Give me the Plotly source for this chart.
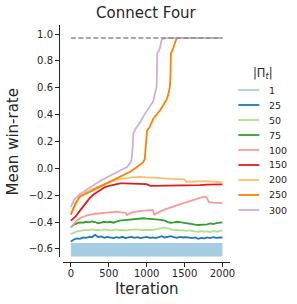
import plotly.graph_objects as go

# ---------------- data ----------------
series_labels = ["1", "25", "50", "75", "100", "150", "200", "250", "300"]
series_colors = ["#a6cee3", "#1f78b4", "#b2df8a", "#33a02c", "#fb9a99",
                 "#e31a1c", "#fdbf6f", "#ff7f00", "#cab2d6"]

grid_iters = list(range(0, 2001, 40))

# |Pi_t| = 1 : dense band (oscillating between these limits)
s1_iters = [0, 2000]
s1_high = [-0.562, -0.562]
s1_low = [-0.652, -0.652]

s25 = [-0.545, -0.53, -0.522, -0.525, -0.515, -0.518, -0.51, -0.512, -0.495, -0.512,
       -0.508, -0.518, -0.51, -0.515, -0.52, -0.512, -0.518, -0.51, -0.52, -0.515,
       -0.51, -0.518, -0.512, -0.52, -0.515, -0.51, -0.518, -0.515, -0.52, -0.512,
       -0.505, -0.515, -0.51, -0.505, -0.512, -0.518, -0.51, -0.515, -0.512, -0.518,
       -0.52, -0.515, -0.525, -0.518, -0.522, -0.515, -0.52, -0.512, -0.518, -0.515,
       -0.515]

s50 = [-0.49, -0.478, -0.47, -0.465, -0.462, -0.458, -0.462, -0.455, -0.46, -0.458,
       -0.462, -0.455, -0.458, -0.462, -0.46, -0.455, -0.46, -0.458, -0.462, -0.46,
       -0.455, -0.458, -0.455, -0.46, -0.458, -0.455, -0.458, -0.46, -0.455, -0.452,
       -0.45, -0.44, -0.448, -0.455, -0.46, -0.458, -0.462, -0.46, -0.465, -0.462,
       -0.468, -0.47, -0.472, -0.468, -0.472, -0.47, -0.475, -0.468, -0.472, -0.465,
       -0.462]

s75 = [-0.44, -0.42, -0.41, -0.402, -0.405, -0.398, -0.402, -0.395, -0.4, -0.41,
       -0.405, -0.398, -0.402, -0.398, -0.405, -0.395, -0.39, -0.388, -0.385, -0.382,
       -0.38, -0.378, -0.375, -0.372, -0.372, -0.375, -0.375, -0.378, -0.38, -0.382,
       -0.385, -0.39, -0.4, -0.405, -0.402, -0.398, -0.4, -0.405, -0.41, -0.415,
       -0.418, -0.42, -0.422, -0.42, -0.422, -0.418, -0.41, -0.415, -0.408, -0.405,
       -0.402]

s100_iters = [0, 60, 120, 200, 300, 400, 500, 600, 680, 720, 740, 800, 900, 1000,
              1080, 1100, 1150, 1200, 1300, 1400, 1500, 1600, 1700, 1750, 1790,
              1820, 1900, 2000]
s100 = [-0.44, -0.4, -0.372, -0.352, -0.34, -0.335, -0.325, -0.322, -0.33, -0.33,
        -0.348, -0.33, -0.318, -0.312, -0.31, -0.345, -0.33, -0.315, -0.295, -0.275,
        -0.255, -0.24, -0.218, -0.211, -0.215, -0.25, -0.258, -0.258]

s150_iters = [0, 60, 120, 200, 250, 300, 385, 450, 520, 600, 650, 700, 800, 900,
              1000, 1050, 1100, 1200, 1300, 1400, 1500, 1560, 1600, 1700, 1800,
              1900, 2000]
s150 = [-0.39, -0.36, -0.315, -0.26, -0.22, -0.195, -0.16, -0.14, -0.128, -0.118,
        -0.112, -0.112, -0.113, -0.117, -0.118, -0.13, -0.13, -0.13, -0.13, -0.128,
        -0.128, -0.125, -0.128, -0.125, -0.122, -0.122, -0.12]

s200_iters = [0, 60, 120, 200, 300, 400, 500, 600, 700, 800, 900, 1000, 1100, 1200,
              1250, 1300, 1400, 1500, 1520, 1600, 1700, 1800, 1900, 2000]
s200 = [-0.34, -0.27, -0.205, -0.175, -0.15, -0.13, -0.105, -0.085, -0.075, -0.068,
        -0.063, -0.065, -0.068, -0.072, -0.075, -0.078, -0.08, -0.082, -0.1, -0.098,
        -0.095, -0.095, -0.1, -0.104]

s250_iters = [0, 60, 122, 200, 254, 320, 385, 450, 517, 580, 649, 720, 780, 850,
              912, 955, 975, 990, 1005, 1043, 1087, 1175, 1220, 1263, 1290, 1307,
              1315, 1320, 1335, 1350, 1372, 1395, 1450, 2000]
s250 = [-0.345, -0.26, -0.21, -0.185, -0.174, -0.155, -0.137, -0.118, -0.1, -0.082,
        -0.063, -0.045, -0.025, 0.0, 0.025, 0.045, 0.07, 0.2, 0.28, 0.31, 0.37, 0.43,
        0.47, 0.51, 0.56, 0.608, 0.7, 0.856, 0.87, 0.894, 0.92, 0.968, 0.97, 0.97]

s300_iters = [0, 40, 122, 254, 385, 517, 649, 740, 780, 800, 815, 824, 860, 912,
              970, 1021, 1087, 1132, 1136, 1140, 1160, 1175, 1197, 1241, 2000]
s300 = [-0.29, -0.235, -0.19, -0.143, -0.095, -0.055, -0.02, 0.01, 0.037, 0.06,
        0.15, 0.26, 0.3, 0.34, 0.4, 0.447, 0.5, 0.608, 0.7, 0.856, 0.875, 0.894,
        0.955, 0.97, 0.97]

optimum_iters = [0, 2000]
optimum = [0.97, 0.97]

y_ticks = [-0.6, -0.4, -0.2, 0.0, 0.2, 0.4, 0.6, 0.8, 1.0]
y_tick_text = ["\u22120.6", "\u22120.4", "\u22120.2", "0.0", "0.2", "0.4", "0.6", "0.8", "1.0"]
x_ticks = [0, 500, 1000, 1500, 2000]
x_tick_text = ["0", "500", "1000", "1500", "2000"]

# ---------------- figure ----------------
FONT = "DejaVu Sans"
INK = "#262626"
LW = 1.8

fig = go.Figure()

# band for |Pi_t| = 1
fig.add_trace(go.Scatter(x=s1_iters, y=s1_low, mode="lines",
                         line=dict(color=series_colors[0], width=1.5),
                         showlegend=False, hoverinfo="skip"))
fig.add_trace(go.Scatter(x=s1_iters, y=s1_high, mode="lines", fill="tonexty",
                         fillcolor=series_colors[0],
                         line=dict(color=series_colors[0], width=1.5),
                         showlegend=False, hoverinfo="skip"))

lines = [
    (grid_iters, s25, 1),
    (grid_iters, s50, 2),
    (grid_iters, s75, 3),
    (s100_iters, s100, 4),
    (s150_iters, s150, 5),
    (s200_iters, s200, 6),
    (s250_iters, s250, 7),
    (s300_iters, s300, 8),
]
for xs, ys, ci in lines:
    fig.add_trace(go.Scatter(x=xs, y=ys, mode="lines",
                             line=dict(color=series_colors[ci], width=LW),
                             name=series_labels[ci], showlegend=False))

fig.add_trace(go.Scatter(x=optimum_iters, y=optimum, mode="lines",
                         line=dict(color="#8a8a8a", width=1.6, dash="5px,2.5px"),
                         showlegend=False, hoverinfo="skip"))

# geometry (pixels)
W, H = 297, 304
ML, MR, MT, MB = 50, 67, 25, 39
PW, PH = W - ML - MR, H - MT - MB


def px_x(p):
    return (p - ML) / PW


def px_y(p):
    return (H - MB - p) / PH


fig.update_layout(
    template="none",
    width=W, height=H,
    autosize=False,
    margin=dict(l=ML, r=MR, t=MT, b=MB, pad=0, autoexpand=False),
    paper_bgcolor="white", plot_bgcolor="white",
    font=dict(family=FONT, color=INK, size=10),
    showlegend=False,
    xaxis=dict(domain=[px_x(63.3), 1], anchor="free", position=px_y(261.7),
               automargin=False,
               range=[-100, 2100], showgrid=False, zeroline=False,
               showline=True, linecolor=INK, linewidth=1,
               ticks="outside", ticklen=4, tickwidth=1, tickcolor=INK,
               ticklabelstandoff=-2,
               tickvals=x_ticks, ticktext=x_tick_text,
               tickfont=dict(size=10, color=INK, family=FONT)),
    yaxis=dict(domain=[px_y(256.7), 1], anchor="free", position=px_x(59),
               automargin=False,
               range=[-0.658, 1.067], showgrid=False, zeroline=False,
               showline=True, linecolor=INK, linewidth=1,
               ticks="outside", ticklen=4, tickwidth=1, tickcolor=INK,
               tickvals=y_ticks, ticktext=y_tick_text,
               tickfont=dict(size=10, color=INK, family=FONT)),
)

annotations = [
    dict(text="Connect Four", x=px_x(146.7), y=px_y(13.3), xref="paper", yref="paper",
         xanchor="center", yanchor="middle", showarrow=False,
         font=dict(size=15, color=INK, family=FONT)),
    dict(text="Iteration", x=px_x(146.7), y=px_y(289), xref="paper", yref="paper",
         xanchor="center", yanchor="middle", showarrow=False,
         font=dict(size=15, color=INK, family=FONT)),
    dict(text="Mean win-rate", x=px_x(12.5), y=px_y(142), xref="paper", yref="paper",
         xanchor="center", yanchor="middle", showarrow=False, textangle=-90,
         font=dict(size=15, color=INK, family=FONT)),
    dict(text="|\u03a0<sub><i>t</i></sub>|", x=px_x(263), y=px_y(73.3),
         xref="paper", yref="paper", xanchor="center", yanchor="middle",
         showarrow=False, font=dict(size=11.5, color=INK, family=FONT)),
]

shapes = []
for i, (lab, col) in enumerate(zip(series_labels, series_colors)):
    yc = 90 + 15 * i
    shapes.append(dict(type="line", xref="paper", yref="paper",
                       x0=px_x(238.3), x1=px_x(259.3), y0=px_y(yc), y1=px_y(yc),
                       line=dict(color=col, width=LW)))
    annotations.append(dict(text=lab, x=px_x(267.3), y=px_y(yc), xref="paper",
                            yref="paper", xanchor="left", yanchor="middle",
                            showarrow=False,
                            font=dict(size=9.5, color=INK, family=FONT)))

fig.update_layout(annotations=annotations, shapes=shapes)

fig.write_html(
    "out.html",
    config={"displayModeBar": False, "responsive": False},
    post_script="document.body.style.margin='0';document.body.style.padding='0';"
                "document.documentElement.style.overflow='hidden';",
)
